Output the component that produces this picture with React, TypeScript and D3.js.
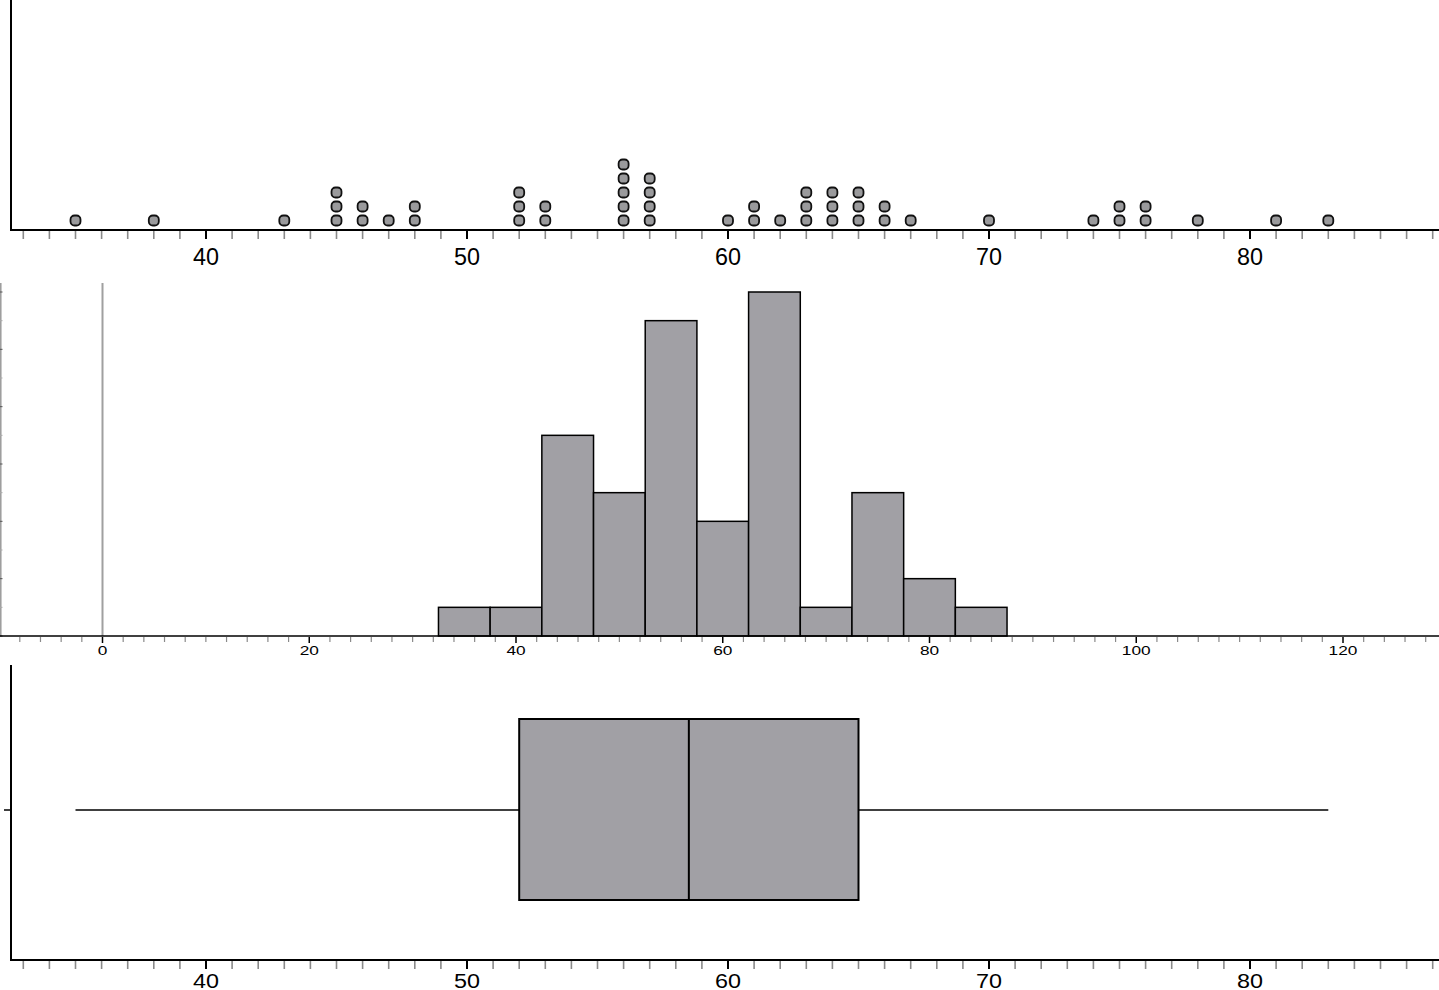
import React from "react";
import * as d3 from "d3";

// Dot plot data: value and number of stacked dots
const dotValues = [35, 38, 43, 45, 46, 47, 48, 52, 53, 56, 57, 60, 61, 62, 63, 64, 65, 66, 67, 70, 74, 75, 76, 78, 81, 83];
const dotCounts = [1, 1, 1, 3, 2, 1, 2, 3, 2, 5, 4, 1, 2, 1, 3, 3, 3, 2, 1, 1, 1, 2, 2, 1, 1, 1];

// Histogram: bin lower edges (width 5) and counts
const binStarts = [32.5, 37.5, 42.5, 47.5, 52.5, 57.5, 62.5, 67.5, 72.5, 77.5, 82.5];
const binCounts = [1, 1, 7, 5, 11, 4, 12, 1, 5, 2, 1];
const binWidth = 5;

// Box plot five-number summary
const boxMin = 35;
const boxQ1 = 52;
const boxMedian = 58.5;
const boxQ3 = 65;
const boxMax = 83;

const topTickLabels = [40, 50, 60, 70, 80];
const histTickLabels = [0, 20, 40, 60, 80, 100, 120];

const W = 1439;
const H = 990;
const FILL = "#a1a0a5";
const FONT = "Liberation Sans, Arial, sans-serif";

export default function App() {
  const x = d3.scaleLinear().domain([40, 80]).range([206, 1250]);
  const xh = d3.scaleLinear().domain([0, 120]).range([102.5, 1343]);
  const yh = d3.scaleLinear().domain([0, 12]).range([636, 292]);

  const topAxisY = 230;
  const boxAxisY = 960;
  const intTicks = d3.range(33, 88);
  const histTicks = d3.range(-10, 130, 2);

  const dots: { v: number; i: number }[] = [];
  dotValues.forEach((v, k) => {
    for (let i = 0; i < dotCounts[k]; i++) dots.push({ v, i });
  });

  const renderNumAxis = (y: number, keyp: string, labelDy: number, fontSize: number) => (
    <g key={keyp}>
      {intTicks.map((t) => {
        const major = t % 10 === 0;
        return (
          <line
            key={t}
            x1={x(t)}
            x2={x(t)}
            y1={y + 1}
            y2={y + 9}
            stroke={major ? "#000" : "#8a8a8a"}
            strokeWidth={major ? 2 : 1.6}
          />
        );
      })}
      <line x1={12} x2={W} y1={y} y2={y} stroke="#000" strokeWidth={2} />
      {topTickLabels.map((t) => (
        <text
          key={t}
          x={x(t)}
          y={y + labelDy}
          textAnchor="middle"
          fontFamily={FONT}
          fontSize={fontSize}
          textLength={26}
          lengthAdjust="spacingAndGlyphs"
          fill="#000"
        >
          {t}
        </text>
      ))}
    </g>
  );

  const boxTop = 719;
  const boxBot = 900;
  const boxMid = 810;

  return (
    <div style={{ position: "absolute", left: 0, top: 0, width: W, height: H, background: "#fff" }}>
      <svg width={W} height={H} style={{ display: "block" }}>
        <rect width={W} height={H} fill="#fff" />

        {/* ---------- Dot plot ---------- */}
        <line x1={11} x2={11} y1={0} y2={topAxisY + 1} stroke="#000" strokeWidth={2} />
        {renderNumAxis(topAxisY, "topaxis", 34.5, 23)}
        {dots.map((d, k) => (
          <rect
            key={k}
            x={x(d.v) - 5}
            y={topAxisY - 14.5 - d.i * 14}
            width={10}
            height={10}
            rx={4}
            ry={4}
            fill="#9a9a9c"
            stroke="#111"
            strokeWidth={1.8}
          />
        ))}

        {/* ---------- Histogram ---------- */}
        <line x1={0.8} x2={0.8} y1={283} y2={636} stroke="#9a9a9a" strokeWidth={1.5} />
        {d3.range(0, 13).map((c) => (
          <line
            key={c}
            x1={0}
            x2={2.5}
            y1={yh(c)}
            y2={yh(c)}
            stroke={c % 2 === 0 ? "#555" : "#aaa"}
            strokeWidth={1}
          />
        ))}
        <line x1={xh(0)} x2={xh(0)} y1={283} y2={636} stroke="#a0a0a0" strokeWidth={2} />
        {binStarts.map((b, k) => (
          <rect
            key={b}
            x={xh(b)}
            y={yh(binCounts[k])}
            width={xh(b + binWidth) - xh(b)}
            height={yh(0) - yh(binCounts[k])}
            fill={FILL}
            stroke="#000"
            strokeWidth={1.5}
          />
        ))}
        {histTicks.map((t) => {
          const major = t % 20 === 0;
          return (
            <line
              key={t}
              x1={xh(t)}
              x2={xh(t)}
              y1={637}
              y2={major ? 643 : 642}
              stroke={major ? "#000" : "#8a8a8a"}
              strokeWidth={major ? 1.5 : 1.2}
            />
          );
        })}
        <line x1={0} x2={W} y1={636} y2={636} stroke="#000" strokeWidth={1.6} />
        {histTickLabels.map((t) => (
          <text
            key={t}
            x={xh(t)}
            y={655}
            textAnchor="middle"
            fontFamily={FONT}
            fontSize={13.5}
            textLength={String(t).length * 9.6}
            lengthAdjust="spacingAndGlyphs"
            fill="#000"
          >
            {t}
          </text>
        ))}

        {/* ---------- Box plot ---------- */}
        <line x1={11} x2={11} y1={665} y2={boxAxisY + 1} stroke="#000" strokeWidth={2} />
        <line x1={4} x2={12} y1={boxMid} y2={boxMid} stroke="#000" strokeWidth={1.5} />
        {renderNumAxis(boxAxisY, "boxaxis", 27.5, 20.5)}
        <line x1={x(boxMin)} x2={x(boxQ1)} y1={boxMid} y2={boxMid} stroke="#000" strokeWidth={1.6} />
        <line x1={x(boxQ3)} x2={x(boxMax)} y1={boxMid} y2={boxMid} stroke="#000" strokeWidth={1.6} />
        <rect
          x={x(boxQ1)}
          y={boxTop}
          width={x(boxQ3) - x(boxQ1)}
          height={boxBot - boxTop}
          fill={FILL}
          stroke="#000"
          strokeWidth={2}
        />
        <line x1={x(boxMedian)} x2={x(boxMedian)} y1={boxTop} y2={boxBot} stroke="#000" strokeWidth={2} />
      </svg>
    </div>
  );
}
